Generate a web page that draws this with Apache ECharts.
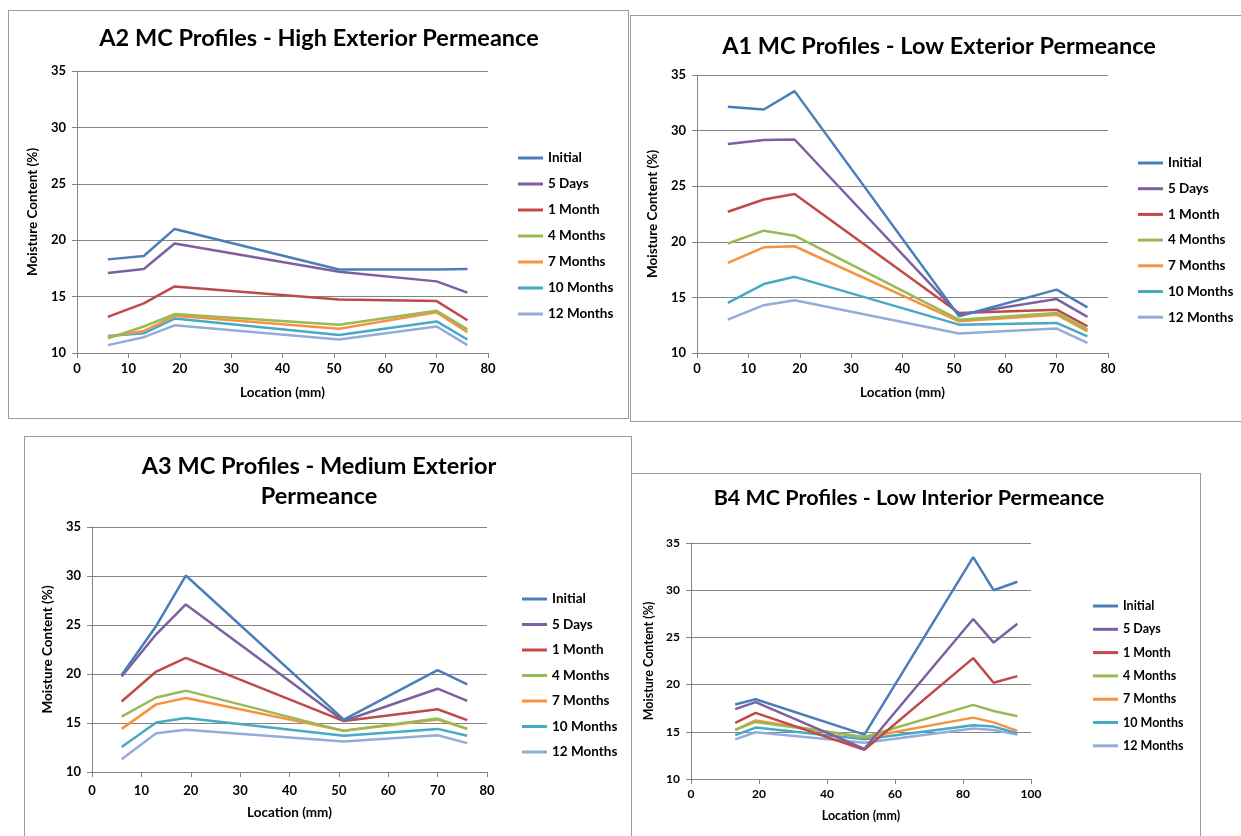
<!DOCTYPE html>
<html>
<head>
<meta charset="utf-8">
<script src="https://cdn.jsdelivr.net/npm/echarts@6/dist/echarts.min.js"></script>
<style>
html,body{margin:0;padding:0;background:#fff;}
body{width:1241px;height:836px;position:relative;overflow:hidden;}
.panel{position:absolute;box-sizing:border-box;border:1px solid #9a9a9a;background:#fff;}
.panel div.c{position:absolute;left:0;top:0;width:100%;height:100%;}
</style>
</head>
<body>
<div class="panel" id="p1" style="left:8px;top:10px;width:621px;height:409px;"><div class="c" id="c1"></div></div>
<div class="panel" id="p2" style="left:630px;top:15px;width:615px;height:407px;"><div class="c" id="c2"></div></div>
<div class="panel" id="p3" style="left:24px;top:436px;width:608px;height:410px;"><div class="c" id="c3"></div></div>
<div class="panel" id="p4" style="left:631px;top:473px;width:570px;height:370px;"><div class="c" id="c4"></div></div>
<script>
// ---------- DATA ----------
const seriesNames = ['Initial','5 Days','1 Month','4 Months','7 Months','10 Months','12 Months'];
const seriesColors = ['#4A7EBB','#7D60A0','#BE4B48','#98B954','#F69240','#46AAC5','#94ACD8'];

const xLocA = [6, 13, 19, 51, 70, 76];
const xLocB = [13, 19, 51, 83, 89, 96];

const yTicks = [10, 15, 20, 25, 30, 35];
const xTicksA = [0, 10, 20, 30, 40, 50, 60, 70, 80];
const xTicksB = [0, 20, 40, 60, 80, 100];

// A2 - High Exterior Permeance
const a2Values = [
  [18.3, 18.6, 21.0, 17.4, 17.4, 17.45],
  [17.1, 17.45, 19.7, 17.2, 16.35, 15.35],
  [13.2, 14.4, 15.9, 14.75, 14.6, 12.9],
  [11.3, 12.35, 13.45, 12.5, 13.75, 12.1],
  [11.45, 11.95, 13.3, 12.15, 13.6, 11.85],
  [11.5, 11.75, 13.05, 11.6, 12.8, 11.2],
  [10.7, 11.4, 12.45, 11.2, 12.35, 10.7]
];
// A1 - Low Exterior Permeance
const a1Values = [
  [32.15, 31.9, 33.55, 13.3, 15.7, 14.1],
  [28.8, 29.15, 29.2, 13.45, 14.85, 13.25],
  [22.7, 23.8, 24.3, 13.6, 13.9, 12.4],
  [19.85, 21.0, 20.55, 13.0, 13.6, 12.1],
  [18.1, 19.5, 19.6, 12.85, 13.45, 11.95],
  [14.5, 16.2, 16.85, 12.55, 12.7, 11.5],
  [13.0, 14.3, 14.75, 11.75, 12.2, 10.9]
];
// A3 - Medium Exterior Permeance
const a3Values = [
  [19.9, 24.9, 30.05, 15.35, 20.4, 18.95],
  [19.75, 24.05, 27.1, 15.2, 18.5, 17.25],
  [17.2, 20.25, 21.65, 15.2, 16.4, 15.3],
  [15.65, 17.6, 18.3, 14.2, 15.45, 14.4],
  [14.4, 16.9, 17.55, 14.2, 15.35, 14.4],
  [12.55, 15.05, 15.5, 13.7, 14.4, 13.7],
  [11.3, 13.95, 14.3, 13.1, 13.75, 12.95]
];
// B4 - Low Interior Permeance
const b4Values = [
  [17.9, 18.45, 14.7, 33.5, 30.0, 30.9],
  [17.4, 18.15, 13.2, 26.95, 24.45, 26.45],
  [15.95, 17.0, 13.1, 22.8, 20.2, 20.9],
  [15.2, 16.05, 14.45, 17.85, 17.2, 16.65],
  [15.2, 16.2, 14.4, 16.5, 16.0, 15.1],
  [14.65, 15.45, 14.2, 15.7, 15.55, 14.85],
  [14.2, 14.95, 13.85, 15.35, 15.2, 14.7]
];

// ---------- CHART BUILDER ----------
const FONT = 'Lato, "Open Sans", sans-serif';
const AXIS_GRAY = '#868686';

function build(elId, cfg) {
  const chart = echarts.init(document.getElementById(elId), null, {renderer: 'canvas'});
  const series = seriesNames.map((name, i) => ({
    name: name,
    type: 'line',
    data: cfg.x.map((xv, j) => [xv, cfg.values[i][j]]),
    showSymbol: false,
    symbol: 'none',
    lineStyle: {width: 2.5, color: seriesColors[i]},
    itemStyle: {color: seriesColors[i]},
    animation: false,
    z: 10 - i
  }));
  chart.setOption({
    animation: false,
    title: {
      text: cfg.title,
      left: cfg.titleX,
      top: cfg.titleY,
      textAlign: 'center',
      padding: 0,
      textStyle: {fontFamily: FONT, fontWeight: 'bold', fontSize: cfg.titleSize, color: '#000', lineHeight: 30}
    },
    legend: {
      orient: 'vertical',
      left: cfg.legendX,
      top: cfg.legendY,
      itemWidth: 25,
      itemHeight: 3,
      itemGap: cfg.legendGap,
      icon: 'rect',
      padding: 0,
      textStyle: {fontFamily: FONT, fontSize: cfg.legendSize, color: '#000', fontWeight: 'bold', lineHeight: 14},
      data: seriesNames
    },
    grid: {left: cfg.grid[0], top: cfg.grid[1], width: cfg.grid[2], height: cfg.grid[3], containLabel: false},
    xAxis: {
      type: 'value',
      min: cfg.xTicks[0],
      max: cfg.xTicks[cfg.xTicks.length - 1],
      interval: cfg.xTicks[1] - cfg.xTicks[0],
      name: 'Location (mm)',
      nameLocation: 'middle',
      nameGap: cfg.xNameGap,
      nameTextStyle: {fontFamily: FONT, fontWeight: 'bold', fontSize: cfg.nameSize, color: '#000'},
      axisLine: {show: true, lineStyle: {color: AXIS_GRAY, width: 1}},
      axisTick: {show: true, inside: false, length: 5, lineStyle: {color: AXIS_GRAY}},
      axisLabel: {fontFamily: FONT, fontSize: cfg.tickSize, color: '#000', margin: cfg.xLabelMargin, fontWeight: 'bold'},
      splitLine: {show: false}
    },
    yAxis: {
      type: 'value',
      min: cfg.yTicks[0],
      max: cfg.yTicks[cfg.yTicks.length - 1],
      interval: cfg.yTicks[1] - cfg.yTicks[0],
      name: 'Moisture Content (%)',
      nameLocation: 'middle',
      nameGap: cfg.yNameGap,
      nameRotate: 90,
      nameTextStyle: {fontFamily: FONT, fontWeight: 'bold', fontSize: cfg.nameSize, color: '#000'},
      axisLine: {show: true, lineStyle: {color: AXIS_GRAY, width: 1}},
      axisTick: {show: true, inside: false, length: 5, lineStyle: {color: AXIS_GRAY}},
      axisLabel: {fontFamily: FONT, fontSize: cfg.tickSize, color: '#000', margin: 11, fontWeight: 'bold'},
      splitLine: {show: true, lineStyle: {color: AXIS_GRAY, width: 1}}
    },
    series: series
  });
  return chart;
}

build('c1', {
  title: 'A2 MC Profiles - High Exterior Permeance',
  titleX: 310, titleY: 12, titleSize: 23.5,
  legendX: 509, legendY: 140, legendGap: 12, legendSize: 13.5,
  grid: [68, 60, 411, 282],
  x: xLocA, values: a2Values, xTicks: xTicksA, yTicks: yTicks,
  yNameGap: 32, xNameGap: 33, nameSize: 13.5, tickSize: 13, xLabelMargin: 9
});
build('c2', {
  title: 'A1 MC Profiles - Low Exterior Permeance',
  titleX: 308, titleY: 15, titleSize: 23.5,
  legendX: 507, legendY: 140, legendGap: 11.7, legendSize: 13.5,
  grid: [66, 59, 411, 278],
  x: xLocA, values: a1Values, xTicks: xTicksA, yTicks: yTicks,
  yNameGap: 33, xNameGap: 33, nameSize: 13.5, tickSize: 13, xLabelMargin: 9
});
build('c3', {
  title: 'A3 MC Profiles - Medium Exterior\nPermeance',
  titleX: 294, titleY: 14, titleSize: 23.5,
  legendX: 497, legendY: 155, legendGap: 11.5, legendSize: 13.5,
  grid: [67, 90, 395, 245],
  x: xLocA, values: a3Values, xTicks: xTicksA, yTicks: yTicks,
  yNameGap: 34, xNameGap: 34, nameSize: 13.5, tickSize: 13, xLabelMargin: 12
});
build('c4', {
  title: 'B4 MC Profiles - Low Interior Permeance',
  titleX: 277, titleY: 9, titleSize: 21.5,
  legendX: 461, legendY: 125, legendGap: 9.3, legendSize: 12.5,
  grid: [59, 69, 340, 236],
  x: xLocB, values: b4Values, xTicks: xTicksB, yTicks: yTicks,
  yNameGap: 30, xNameGap: 30, nameSize: 12.5, tickSize: 12, xLabelMargin: 9
});
</script>
</body>
</html>
